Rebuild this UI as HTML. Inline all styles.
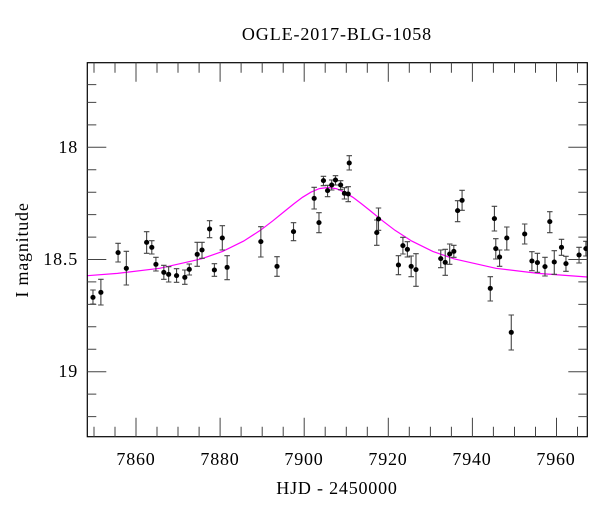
<!DOCTYPE html>
<html><head><meta charset="utf-8"><style>
html,body{margin:0;padding:0;background:#fff}
svg{display:block}
text{font-family:"Liberation Serif",serif;fill:#000}
</style></head><body>
<svg width="600" height="512" viewBox="0 0 600 512" xmlns="http://www.w3.org/2000/svg">
<defs><clipPath id="c"><rect x="87.3" y="62.7" width="500" height="374"/></clipPath></defs>
<text x="337" y="40" font-size="18" letter-spacing="0.9" text-anchor="middle">OGLE-2017-BLG-1058</text>
<g clip-path="url(#c)">
<polyline fill="none" stroke="#ff00ff" stroke-width="1.2" points="87.3,275.7 117.5,273.4 159.5,268.3 201.6,258.8 222.6,251.4 243.6,241.1 260.4,230.3 273,220.7 285.7,210.4 294.1,203.6 302.5,197.3 310.9,192.2 319.3,188.6 327.7,187.5 336.1,188.6 344.5,192.2 352.9,197.3 361.3,203.6 369.8,210.4 382.4,220.7 395,230.3 411.8,241.1 432.8,251.4 453.9,258.8 495.9,268.3 538,273.4 587.3,277"/>
<g transform="matrix(0.344 0 0 0.33333 59.6 40)">
<path fill="none" stroke="#444" stroke-width="1.1" vector-effect="non-scaling-stroke" d="M97,750V792M89,750H105M89,792H105 M120,718V795M112,718H128M112,795H128 M170,610V666M162,610H178M162,666H178 M194,634V735M186,634H202M186,735H202 M253,575V640M245,575H261M245,640H261 M268,602V642M260,602H276M260,642H276 M280,652V693M272,652H288M272,693H288 M303,676V718M295,676H311M295,718H311 M317,680V726M309,680H325M309,726H325 M340,686V727M332,686H348M332,727H348 M364,690V733M356,690H372M356,733H372 M377,672V705M369,672H385M369,705H385 M400,607V679M392,607H408M392,679H408 M414,607V655M406,607H422M406,655H422 M436,542V593M428,542H444M428,593H444 M450,671V709M442,671H458M442,709H458 M473,557V630M465,557H481M465,630H481 M487,647V719M479,647H495M479,719H495 M585,560V651M577,560H593M577,651H593 M632,650V709M624,650H640M624,709H640 M680,548V602M672,548H688M672,602H688 M740,442V507M732,442H748M732,507H748 M754,518V578M746,518H762M746,578H762 M767,409V437M759,409H775M759,437H775 M779,436V470M771,436H787M771,470H787 M791,420V450M783,420H799M783,450H799 M802,407V435M794,407H810M794,435H810 M817,422V449M809,422H825M809,449H825 M828,443V477M820,443H836M820,477H836 M839,440V485M831,440H847M831,485H847 M842,347V390M834,347H850M834,390H850 M922,540V616M914,540H930M914,616H930 M927,504V571M919,504H935M919,571H935 M985,647V704M977,647H993M977,704H993 M998,592V642M990,592H1006M990,642H1006 M1011,605V651M1003,605H1019M1003,651H1019 M1022,648V710M1014,648H1030M1014,710H1030 M1036,641V739M1028,641H1044M1028,739H1044 M1108,630V683M1100,630H1116M1100,683H1116 M1121,628V706M1113,628H1129M1113,706H1129 M1134,612V673M1126,612H1142M1126,673H1142 M1146,616V652M1138,616H1154M1138,652H1154 M1157,482V545M1149,482H1165M1149,545H1165 M1170,451V511M1162,451H1178M1162,511H1178 M1252,710V783M1244,710H1260M1244,783H1260 M1264,499V573M1256,499H1272M1256,573H1272 M1268,596V657M1260,596H1276M1260,657H1276 M1279,630V679M1271,630H1287M1271,679H1287 M1300,561V630M1292,561H1308M1292,630H1308 M1313,825V930M1305,825H1321M1305,930H1321 M1352,552V612M1344,552H1360M1344,612H1360 M1373,635V692M1365,635H1381M1365,692H1381 M1389,640V697M1381,640H1397M1381,697H1397 M1411,652V708M1403,652H1419M1403,708H1419 M1425,515V578M1417,515H1433M1417,578H1433 M1438,632V703M1430,632H1446M1430,703H1446 M1459,598V646M1451,598H1467M1451,646H1467 M1472,649V694M1464,649H1480M1464,694H1480 M1510,622V669M1502,622H1518M1502,669H1518 M1530,604V648M1522,604H1538M1522,648H1538"/>
<g fill="#000">
<circle cx="97" cy="772" r="7.5"/><circle cx="120" cy="757" r="7.5"/><circle cx="170" cy="638" r="7.5"/><circle cx="194" cy="685" r="7.5"/><circle cx="253" cy="607" r="7.5"/><circle cx="268" cy="622" r="7.5"/><circle cx="280" cy="673" r="7.5"/><circle cx="303" cy="697" r="7.5"/><circle cx="317" cy="703" r="7.5"/><circle cx="340" cy="707" r="7.5"/><circle cx="364" cy="712" r="7.5"/><circle cx="377" cy="688" r="7.5"/><circle cx="400" cy="643" r="7.5"/><circle cx="414" cy="630" r="7.5"/><circle cx="436" cy="567" r="7.5"/><circle cx="450" cy="690" r="7.5"/><circle cx="473" cy="594" r="7.5"/><circle cx="487" cy="682" r="7.5"/><circle cx="585" cy="605" r="7.5"/><circle cx="632" cy="679" r="7.5"/><circle cx="680" cy="575" r="7.5"/><circle cx="740" cy="475" r="7.5"/><circle cx="754" cy="548" r="7.5"/><circle cx="767" cy="422" r="7.5"/><circle cx="779" cy="452" r="7.5"/><circle cx="791" cy="435" r="7.5"/><circle cx="802" cy="420" r="7.5"/><circle cx="817" cy="435" r="7.5"/><circle cx="828" cy="460" r="7.5"/><circle cx="839" cy="462" r="7.5"/><circle cx="842" cy="369" r="7.5"/><circle cx="922" cy="578" r="7.5"/><circle cx="927" cy="537" r="7.5"/><circle cx="985" cy="675" r="7.5"/><circle cx="998" cy="617" r="7.5"/><circle cx="1011" cy="628" r="7.5"/><circle cx="1022" cy="679" r="7.5"/><circle cx="1036" cy="689" r="7.5"/><circle cx="1108" cy="656" r="7.5"/><circle cx="1121" cy="667" r="7.5"/><circle cx="1134" cy="642" r="7.5"/><circle cx="1146" cy="634" r="7.5"/><circle cx="1157" cy="512" r="7.5"/><circle cx="1170" cy="481" r="7.5"/><circle cx="1252" cy="745" r="7.5"/><circle cx="1264" cy="536" r="7.5"/><circle cx="1268" cy="626" r="7.5"/><circle cx="1279" cy="651" r="7.5"/><circle cx="1300" cy="594" r="7.5"/><circle cx="1313" cy="877" r="7.5"/><circle cx="1352" cy="582" r="7.5"/><circle cx="1373" cy="663" r="7.5"/><circle cx="1389" cy="668" r="7.5"/><circle cx="1411" cy="680" r="7.5"/><circle cx="1425" cy="545" r="7.5"/><circle cx="1438" cy="666" r="7.5"/><circle cx="1459" cy="622" r="7.5"/><circle cx="1472" cy="671" r="7.5"/><circle cx="1510" cy="645" r="7.5"/><circle cx="1530" cy="626" r="7.5"/>
</g>
</g>
</g>
<rect x="87.3" y="62.7" width="500" height="374" fill="none" stroke="#000" stroke-width="1.2"/>
<path fill="none" stroke="#444" stroke-width="1" d="M87.3,84.6H96.3M587.3,84.6H578.3 M87.3,102.4H96.3M587.3,102.4H578.3 M87.3,124.9H96.3M587.3,124.9H578.3 M87.3,147.3H106.3M587.3,147.3H568.3 M87.3,169.7H96.3M587.3,169.7H578.3 M87.3,192.2H96.3M587.3,192.2H578.3 M87.3,214.6H96.3M587.3,214.6H578.3 M87.3,237.1H96.3M587.3,237.1H578.3 M87.3,259.5H106.3M587.3,259.5H568.3 M87.3,281.9H96.3M587.3,281.9H578.3 M87.3,304.4H96.3M587.3,304.4H578.3 M87.3,326.8H96.3M587.3,326.8H578.3 M87.3,349.3H96.3M587.3,349.3H578.3 M87.3,371.7H106.3M587.3,371.7H568.3 M87.3,394.1H96.3M587.3,394.1H578.3 M87.3,416.6H96.3M587.3,416.6H578.3 M94,436.7V426.7M94,62.7V72.7 M115,436.7V426.7M115,62.7V72.7 M136,436.7V417.7M136,62.7V81.7 M157,436.7V426.7M157,62.7V72.7 M178,436.7V426.7M178,62.7V72.7 M199.1,436.7V426.7M199.1,62.7V72.7 M220.1,436.7V417.7M220.1,62.7V81.7 M241.1,436.7V426.7M241.1,62.7V72.7 M262.2,436.7V426.7M262.2,62.7V72.7 M283.2,436.7V426.7M283.2,62.7V72.7 M304.2,436.7V417.7M304.2,62.7V81.7 M325.2,436.7V426.7M325.2,62.7V72.7 M346.3,436.7V426.7M346.3,62.7V72.7 M367.3,436.7V426.7M367.3,62.7V72.7 M388.3,436.7V417.7M388.3,62.7V81.7 M409.3,436.7V426.7M409.3,62.7V72.7 M430.4,436.7V426.7M430.4,62.7V72.7 M451.4,436.7V426.7M451.4,62.7V72.7 M472.4,436.7V417.7M472.4,62.7V81.7 M493.4,436.7V426.7M493.4,62.7V72.7 M514.5,436.7V426.7M514.5,62.7V72.7 M535.5,436.7V426.7M535.5,62.7V72.7 M556.5,436.7V417.7M556.5,62.7V81.7 M577.5,436.7V426.7M577.5,62.7V72.7"/>
<g font-size="18" letter-spacing="0.8">
<text x="78" y="153" text-anchor="end">18</text>
<text x="78" y="265" text-anchor="end">18.5</text>
<text x="78" y="377" text-anchor="end">19</text>
<text x="136" y="465" text-anchor="middle">7860</text>
<text x="220" y="465" text-anchor="middle">7880</text>
<text x="304" y="465" text-anchor="middle">7900</text>
<text x="388" y="465" text-anchor="middle">7920</text>
<text x="472" y="465" text-anchor="middle">7940</text>
<text x="556" y="465" text-anchor="middle">7960</text>
<text x="337" y="494" text-anchor="middle">HJD - 2450000</text>
<text transform="translate(28,250) rotate(-90)" text-anchor="middle">I magnitude</text>
</g>
</svg>
</body></html>
